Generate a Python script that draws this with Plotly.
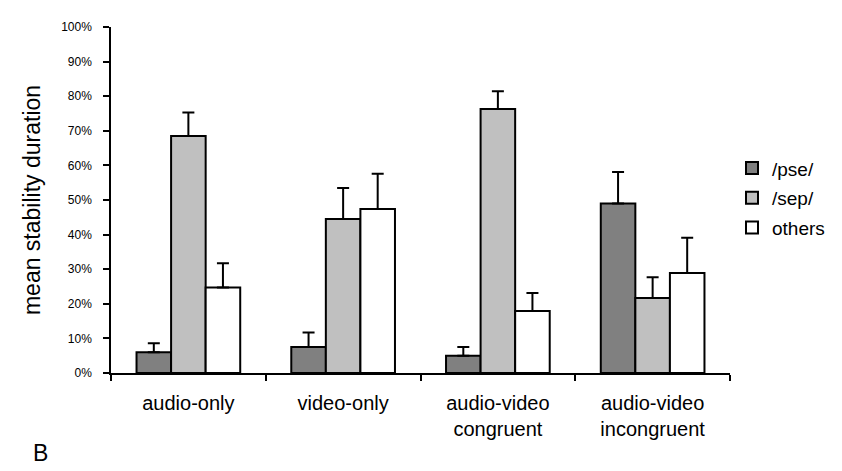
import plotly.graph_objects as go

categories = ["audio-only", "video-only", "audio-video<br>congruent", "audio-video<br>incongruent"]
pse = [6.0, 7.5, 5.0, 49.0]
pse_err = [2.6, 4.2, 2.5, 9.1]
sep = [68.5, 44.5, 76.3, 21.7]
sep_err = [6.8, 9.0, 5.1, 6.0]
others = [24.7, 47.4, 17.9, 28.9]
others_err = [7.0, 10.2, 5.2, 10.2]
y_ticks = [0, 10, 20, 30, 40, 50, 60, 70, 80, 90, 100]

series = [
    ("/pse/", pse, pse_err, "#808080"),
    ("/sep/", sep, sep_err, "#c0c0c0"),
    ("others", others, others_err, "#ffffff"),
]

FONT = "Liberation Sans, Arial, sans-serif"

fig = go.Figure()
for name, vals, errs, color in series:
    fig.add_trace(go.Bar(
        name=name, x=categories, y=vals,
        marker=dict(color=color, line=dict(color="#000000", width=2)),
        error_y=dict(type="data", array=errs, arrayminus=[0] * len(errs), symmetric=False,
                     color="#000000", thickness=2, width=6),
        legendgroup=name,
    ))

fig.update_layout(
    width=842, height=471,
    margin=dict(l=103, r=120, t=15, b=106),
    paper_bgcolor="#ffffff", plot_bgcolor="#ffffff",
    barmode="group", bargap=0.33, bargroupgap=0,
    font=dict(family=FONT, color="#000000"),
    showlegend=True,
    legend=dict(x=(724 - 103) / 619, y=0.505, xanchor="left", yanchor="middle",
                font=dict(size=19, family=FONT), traceorder="grouped",
                tracegroupgap=2, bgcolor="rgba(0,0,0,0)"),
    xaxis=dict(showline=True, linecolor="#000000", linewidth=1.5,
               ticks="outside", tickson="boundaries", ticklen=6, tickcolor="#000000",
               tickwidth=1.5, tickfont=dict(size=20, family=FONT),
               ticklabelstandoff=11, showgrid=False),
    yaxis=dict(range=[0, 100], tickvals=y_ticks, ticktext=[f"{v}%" for v in y_ticks],
               showline=True, linecolor="#000000", linewidth=1.5,
               ticks="outside", ticklen=6, tickcolor="#000000", tickwidth=1.5,
               tickfont=dict(size=12, family=FONT), ticklabelstandoff=9,
               showgrid=False, zeroline=False,
               title=dict(text="mean stability duration", font=dict(size=23, family=FONT), standoff=14)),
    annotations=[dict(text="B", xref="paper", yref="paper",
                      x=(32 - 103) / 619, y=-(446 - 365) / 350,
                      xanchor="center", yanchor="middle", showarrow=False,
                      font=dict(size=23, family=FONT, color="#000000"))],
)

fig.write_html("out.html")
